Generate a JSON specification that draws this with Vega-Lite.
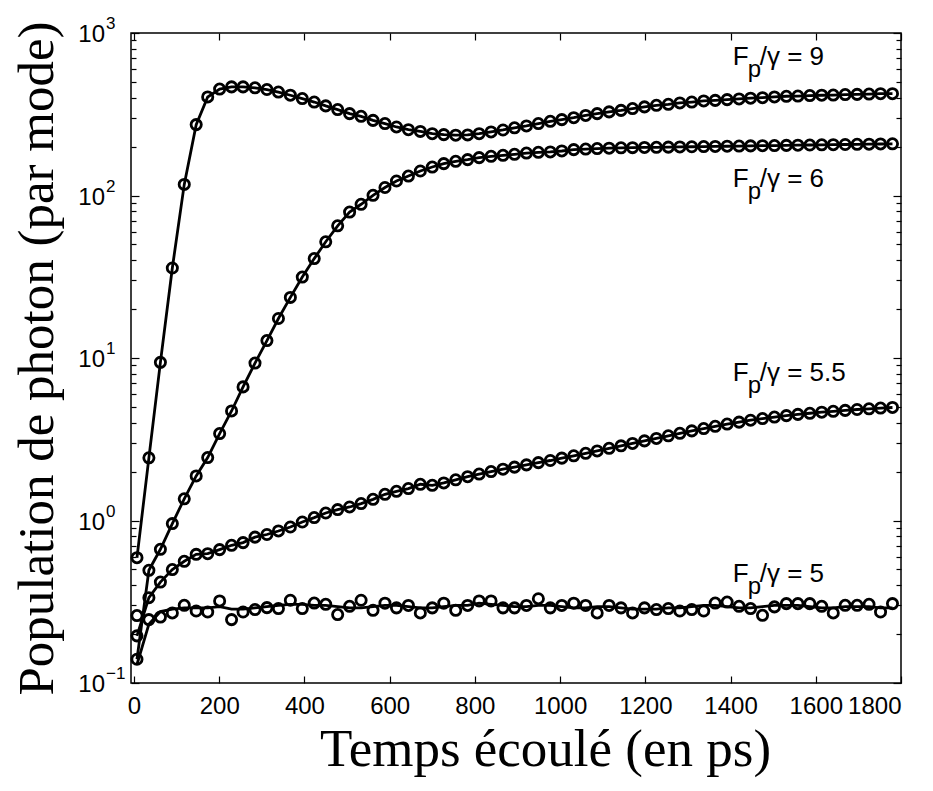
{
  "$schema": "https://vega.github.io/schema/vega-lite/v6.json",
  "width": 770,
  "height": 650,
  "autosize": {"type": "none"},
  "padding": {"left": 131, "top": 33, "right": 32, "bottom": 108},
  "background": "white",
  "config": {
    "view": {"stroke": "black", "strokeWidth": 1.5},
    "axis": {
      "domain": false,
      "grid": false,
      "tickColor": "black",
      "tickWidth": 1.2,
      "labelColor": "black",
      "labelFont": "Liberation Sans",
      "labelFontSize": 24,
      "titleFont": "Liberation Serif",
      "titleFontWeight": "normal",
      "titleColor": "black",
      "labelOverlap": false
    }
  },
  "datasets": {
    "main": [
      {"t": 7, "f9": 0.59, "f6": 0.14, "f55": 0.195, "f5": 0.26, "th5": 0.13},
      {"t": 35, "f9": 2.43, "f6": 0.494, "f55": 0.335, "f5": 0.2455, "th5": 0.23},
      {"t": 62, "f9": 9.4, "f6": 0.665, "f55": 0.418, "f5": 0.2547, "th5": 0.275},
      {"t": 90, "f9": 35.8, "f6": 0.957, "f55": 0.499, "f5": 0.2698, "th5": 0.285},
      {"t": 118, "f9": 117, "f6": 1.36, "f55": 0.561, "f5": 0.3008, "th5": 0.29},
      {"t": 146, "f9": 273, "f6": 1.88, "f55": 0.619, "f5": 0.2774, "th5": 0.29},
      {"t": 173, "f9": 404, "f6": 2.44, "f55": 0.625, "f5": 0.2735, "th5": 0.29},
      {"t": 201, "f9": 452, "f6": 3.43, "f55": 0.662, "f5": 0.3197, "th5": 0.295},
      {"t": 229, "f9": 466, "f6": 4.72, "f55": 0.704, "f5": 0.2455, "th5": 0.285},
      {"t": 256, "f9": 466, "f6": 6.64, "f55": 0.731, "f5": 0.2735, "th5": 0.285},
      {"t": 284, "f9": 460, "f6": 9.31, "f55": 0.79, "f5": 0.283, "th5": 0.29},
      {"t": 312, "f9": 449, "f6": 12.8, "f55": 0.82, "f5": 0.291, "th5": 0.295},
      {"t": 339, "f9": 433, "f6": 17.5, "f55": 0.862, "f5": 0.287, "th5": 0.3},
      {"t": 367, "f9": 414, "f6": 23.6, "f55": 0.912, "f5": 0.323, "th5": 0.305},
      {"t": 395, "f9": 395, "f6": 31.5, "f55": 0.979, "f5": 0.287, "th5": 0.305},
      {"t": 423, "f9": 376, "f6": 40.9, "f55": 1.042, "f5": 0.3105, "th5": 0.3},
      {"t": 450, "f9": 356, "f6": 51.9, "f55": 1.112, "f5": 0.305, "th5": 0.3},
      {"t": 478, "f9": 338, "f6": 65.1, "f55": 1.167, "f5": 0.2636, "th5": 0.295},
      {"t": 506, "f9": 319, "f6": 79.1, "f55": 1.211, "f5": 0.2965, "th5": 0.29},
      {"t": 533, "f9": 307, "f6": 88.3, "f55": 1.271, "f5": 0.323, "th5": 0.29},
      {"t": 561, "f9": 290, "f6": 100.3, "f55": 1.35, "f5": 0.28, "th5": 0.295},
      {"t": 589, "f9": 277, "f6": 112, "f55": 1.449, "f5": 0.31, "th5": 0.3},
      {"t": 616, "f9": 264, "f6": 122.8, "f55": 1.512, "f5": 0.29, "th5": 0.3},
      {"t": 644, "f9": 254, "f6": 131.8, "f55": 1.572, "f5": 0.3, "th5": 0.295},
      {"t": 672, "f9": 248, "f6": 141.5, "f55": 1.671, "f5": 0.27, "th5": 0.29},
      {"t": 700, "f9": 240, "f6": 149.7, "f55": 1.647, "f5": 0.29, "th5": 0.29},
      {"t": 727, "f9": 237, "f6": 157.1, "f55": 1.702, "f5": 0.31, "th5": 0.295},
      {"t": 755, "f9": 235, "f6": 162.3, "f55": 1.78, "f5": 0.28, "th5": 0.3},
      {"t": 783, "f9": 236, "f6": 166.3, "f55": 1.86, "f5": 0.3, "th5": 0.3},
      {"t": 810, "f9": 240, "f6": 171, "f55": 1.93, "f5": 0.32, "th5": 0.31},
      {"t": 838, "f9": 246, "f6": 174.2, "f55": 2.0, "f5": 0.32, "th5": 0.305},
      {"t": 866, "f9": 253, "f6": 176.7, "f55": 2.07, "f5": 0.29, "th5": 0.3},
      {"t": 893, "f9": 261, "f6": 179.2, "f55": 2.13, "f5": 0.29, "th5": 0.295},
      {"t": 921, "f9": 268, "f6": 182.5, "f55": 2.2, "f5": 0.3, "th5": 0.295},
      {"t": 949, "f9": 277, "f6": 184.5, "f55": 2.27, "f5": 0.33, "th5": 0.3},
      {"t": 977, "f9": 286, "f6": 185.3, "f55": 2.34, "f5": 0.29, "th5": 0.3},
      {"t": 1004, "f9": 293, "f6": 187.9, "f55": 2.42, "f5": 0.3, "th5": 0.295},
      {"t": 1032, "f9": 301, "f6": 191.6, "f55": 2.5, "f5": 0.31, "th5": 0.29},
      {"t": 1060, "f9": 311, "f6": 193.2, "f55": 2.59, "f5": 0.3, "th5": 0.29},
      {"t": 1087, "f9": 319, "f6": 194.5, "f55": 2.68, "f5": 0.27, "th5": 0.295},
      {"t": 1115, "f9": 327, "f6": 195.5, "f55": 2.78, "f5": 0.3, "th5": 0.295},
      {"t": 1143, "f9": 334, "f6": 196.5, "f55": 2.88, "f5": 0.29, "th5": 0.29},
      {"t": 1170, "f9": 343, "f6": 197, "f55": 2.98, "f5": 0.27, "th5": 0.285},
      {"t": 1198, "f9": 351, "f6": 197.5, "f55": 3.09, "f5": 0.29, "th5": 0.285},
      {"t": 1226, "f9": 359, "f6": 198, "f55": 3.2, "f5": 0.283, "th5": 0.285},
      {"t": 1254, "f9": 364, "f6": 198.5, "f55": 3.32, "f5": 0.287, "th5": 0.29},
      {"t": 1281, "f9": 371, "f6": 199, "f55": 3.44, "f5": 0.2774, "th5": 0.29},
      {"t": 1309, "f9": 376, "f6": 199.5, "f55": 3.56, "f5": 0.283, "th5": 0.295},
      {"t": 1337, "f9": 382, "f6": 200, "f55": 3.68, "f5": 0.2774, "th5": 0.3},
      {"t": 1364, "f9": 385, "f6": 200.5, "f55": 3.8, "f5": 0.3105, "th5": 0.3},
      {"t": 1392, "f9": 389, "f6": 201, "f55": 3.92, "f5": 0.315, "th5": 0.295},
      {"t": 1420, "f9": 393, "f6": 201.5, "f55": 4.03, "f5": 0.2965, "th5": 0.29},
      {"t": 1447, "f9": 397, "f6": 202, "f55": 4.14, "f5": 0.287, "th5": 0.29},
      {"t": 1475, "f9": 400, "f6": 202.5, "f55": 4.24, "f5": 0.261, "th5": 0.295},
      {"t": 1503, "f9": 404, "f6": 203, "f55": 4.33, "f5": 0.294, "th5": 0.3},
      {"t": 1531, "f9": 408, "f6": 203.5, "f55": 4.42, "f5": 0.308, "th5": 0.3},
      {"t": 1558, "f9": 409, "f6": 204, "f55": 4.5, "f5": 0.308, "th5": 0.3},
      {"t": 1586, "f9": 412, "f6": 204.5, "f55": 4.57, "f5": 0.308, "th5": 0.295},
      {"t": 1614, "f9": 414, "f6": 205, "f55": 4.64, "f5": 0.2965, "th5": 0.29},
      {"t": 1641, "f9": 415, "f6": 205.5, "f55": 4.7, "f5": 0.2698, "th5": 0.29},
      {"t": 1669, "f9": 418, "f6": 206, "f55": 4.76, "f5": 0.3008, "th5": 0.295},
      {"t": 1697, "f9": 419, "f6": 206.5, "f55": 4.82, "f5": 0.3008, "th5": 0.295},
      {"t": 1725, "f9": 421, "f6": 207, "f55": 4.87, "f5": 0.305, "th5": 0.295},
      {"t": 1752, "f9": 423, "f6": 207.5, "f55": 4.92, "f5": 0.2735, "th5": 0.29},
      {"t": 1780, "f9": 423, "f6": 208, "f55": 4.96, "f5": 0.308, "th5": 0.29}
    ],
    "labels": [
      {"t": 1405, "v": 632, "rest": "/γ = 9"},
      {"t": 1405, "v": 112.8, "rest": "/γ = 6"},
      {"t": 1405, "v": 7.19, "rest": "/γ = 5.5"},
      {"t": 1405, "v": 0.417, "rest": "/γ = 5"}
    ],
    "decades": [
      {"v": 0.1, "e": "−1"},
      {"v": 1, "e": "0"},
      {"v": 10, "e": "1"},
      {"v": 100, "e": "2"},
      {"v": 1000, "e": "3"}
    ]
  },
  "resolve": {"axis": {"x": "independent", "y": "independent"}},
  "layer": [
    {
      "data": {"name": "main"},
      "transform": [{"fold": ["f9", "f6", "f55", "th5"], "as": ["s", "v"]}],
      "mark": {"type": "line", "color": "black", "strokeWidth": 2.8},
      "encoding": {
        "x": {
          "field": "t", "type": "quantitative",
          "scale": {"domain": [-7, 1800], "nice": false, "zero": false},
          "axis": {
            "orient": "bottom",
            "values": [0, 200, 400, 600, 800, 1000, 1200, 1400, 1600, 1800],
            "format": "d",
            "tickSize": -7,
            "labelPadding": 18,
            "labelFontSize": 24,
            "title": "Temps écoulé (en ps)",
            "titleFont": "Liberation Serif",
            "titleFontSize": 53,
            "titleX": 414,
            "titleY": 82,
            "titleBaseline": "alphabetic"
          }
        },
        "y": {
          "field": "v", "type": "quantitative",
          "scale": {"type": "log", "domain": [0.1, 1000], "nice": false},
          "axis": {
            "orient": "left",
            "values": [0.1, 0.2, 0.3, 0.4, 0.5, 0.6, 0.7, 0.8, 0.9, 1, 2, 3, 4, 5, 6, 7, 8, 9, 10, 20, 30, 40, 50, 60, 70, 80, 90, 100, 200, 300, 400, 500, 600, 700, 800, 900, 1000],
            "tickSize": {"condition": {"test": "indexof([0.1, 1, 10, 100, 1000], datum.value) >= 0", "value": -8}, "value": -5},
            "labels": false,
            "title": "Population de photon (par mode)",
            "titleFont": "Liberation Serif",
            "titleFontSize": 51,
            "titleX": -79,
            "titleY": 325,
            "titleAngle": -90,
            "titleAlign": "center",
            "titleBaseline": "alphabetic"
          }
        },
        "detail": {"field": "s"}
      }
    },
    {
      "data": {"name": "main"},
      "transform": [{"fold": ["f9", "f6", "f55", "f5"], "as": ["s", "v"]}],
      "mark": {"type": "point", "shape": "circle", "filled": false, "color": "black", "strokeWidth": 2.8, "size": 105, "opacity": 1},
      "encoding": {
        "x": {
          "field": "t", "type": "quantitative",
          "axis": {
            "orient": "top",
            "values": [0, 200, 400, 600, 800, 1000, 1200, 1400, 1600, 1800],
            "tickSize": -7,
            "labels": false,
            "title": null
          }
        },
        "y": {
          "field": "v", "type": "quantitative",
          "axis": {
            "orient": "right",
            "values": [0.1, 0.2, 0.3, 0.4, 0.5, 0.6, 0.7, 0.8, 0.9, 1, 2, 3, 4, 5, 6, 7, 8, 9, 10, 20, 30, 40, 50, 60, 70, 80, 90, 100, 200, 300, 400, 500, 600, 700, 800, 900, 1000],
            "tickSize": {"condition": {"test": "indexof([0.1, 1, 10, 100, 1000], datum.value) >= 0", "value": -8}, "value": -5},
            "labels": false,
            "title": null
          }
        }
      }
    },
    {
      "data": {"name": "decades"},
      "mark": {"type": "text", "text": "10", "align": "right", "baseline": "alphabetic", "font": "Liberation Sans", "fontSize": 24, "dx": -26, "dy": 9, "color": "black"},
      "encoding": {
        "x": {"datum": -7, "type": "quantitative", "axis": null},
        "y": {"field": "v", "type": "quantitative", "axis": null}
      }
    },
    {
      "data": {"name": "decades"},
      "mark": {"type": "text", "align": "left", "baseline": "alphabetic", "font": "Liberation Sans", "fontSize": 17, "dx": -25, "dy": -4, "color": "black"},
      "encoding": {
        "x": {"datum": -7, "type": "quantitative", "axis": null},
        "y": {"field": "v", "type": "quantitative", "axis": null},
        "text": {"field": "e"}
      }
    },
    {
      "data": {"name": "labels"},
      "mark": {"type": "text", "text": "F", "align": "left", "baseline": "alphabetic", "font": "Liberation Sans", "fontSize": 26, "color": "black"},
      "encoding": {
        "x": {"field": "t", "type": "quantitative", "axis": null},
        "y": {"field": "v", "type": "quantitative", "axis": null}
      }
    },
    {
      "data": {"name": "labels"},
      "mark": {"type": "text", "text": "p", "align": "left", "baseline": "alphabetic", "font": "Liberation Sans", "fontSize": 24, "dx": 15, "dy": 12, "color": "black"},
      "encoding": {
        "x": {"field": "t", "type": "quantitative", "axis": null},
        "y": {"field": "v", "type": "quantitative", "axis": null}
      }
    },
    {
      "data": {"name": "labels"},
      "mark": {"type": "text", "align": "left", "baseline": "alphabetic", "font": "Liberation Sans", "fontSize": 26, "dx": 27, "color": "black"},
      "encoding": {
        "x": {"field": "t", "type": "quantitative", "axis": null},
        "y": {"field": "v", "type": "quantitative", "axis": null},
        "text": {"field": "rest"}
      }
    }
  ]
}
